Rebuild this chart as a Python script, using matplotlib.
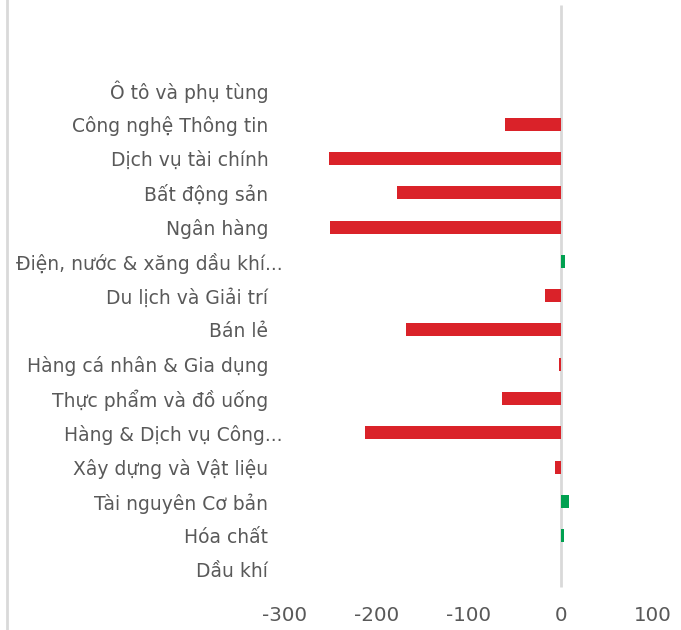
import matplotlib
matplotlib.use("Agg")
import matplotlib.pyplot as plt
import matplotlib.transforms as mtransforms
from matplotlib.lines import Line2D

# sectors, top to bottom
sectors = [
    "Ô tô và phụ tùng",
    "Công nghệ Thông tin",
    "Dịch vụ tài chính",
    "Bất động sản",
    "Ngân hàng",
    "Điện, nước & xăng dầu khí...",
    "Du lịch và Giải trí",
    "Bán lẻ",
    "Hàng cá nhân & Gia dụng",
    "Thực phẩm và đồ uống",
    "Hàng & Dịch vụ Công...",
    "Xây dựng và Vật liệu",
    "Tài nguyên Cơ bản",
    "Hóa chất",
    "Dầu khí",
]
values = [0, -61, -252, -178, -251, 4, -17, -168, -2, -64, -213, -7, 9, 3, 0.5]
xticks = [-300, -200, -100, 0, 100]

RED = "#da2229"
GREEN = "#00a050"
TEXT = "#595959"
GRID = "#d9d9d9"

plt.rcParams["font.family"] = ["DejaVu Sans"]

fig = plt.figure(figsize=(6.81, 6.3), dpi=100)
ax = fig.add_axes([285 / 681, 1 - 600 / 630, (653 - 285) / 681, 595 / 630])

n = len(sectors)
ypos = list(range(n - 1, -1, -1))
colors = [GREEN if v > 0 else RED for v in values]
ax.barh(ypos, values, height=0.38, color=colors, zorder=3)

ax.set_xlim(-300, 100)
ax.set_ylim(-0.875, -0.875 + 595 / 34.29)
ax.vlines(0, -0.5, ax.get_ylim()[1], color=GRID, linewidth=2, zorder=2)

ax.set_yticks(ypos)
ax.set_yticklabels(sectors, fontsize=13.5, color=TEXT)
ax.set_xticks(xticks)
ax.set_xticklabels([str(t) for t in xticks], fontsize=14.3, color=TEXT)
ax.tick_params(axis="y", length=0, pad=12)
ax.tick_params(axis="x", length=0, pad=4)
for s in ax.spines.values():
    s.set_visible(False)

# truncated labels overflow a little to the right, as in the source
shift = mtransforms.ScaledTranslation(14 / 100, 0, fig.dpi_scale_trans)
for lbl in ax.get_yticklabels():
    if lbl.get_text().endswith("..."):
        lbl.set_transform(lbl.get_transform() + shift)

fig.add_artist(Line2D([7 / 681, 7 / 681], [0, 1], color=GRID, linewidth=2,
                      transform=fig.transFigure))

fig.savefig("out.png", dpi=100)
